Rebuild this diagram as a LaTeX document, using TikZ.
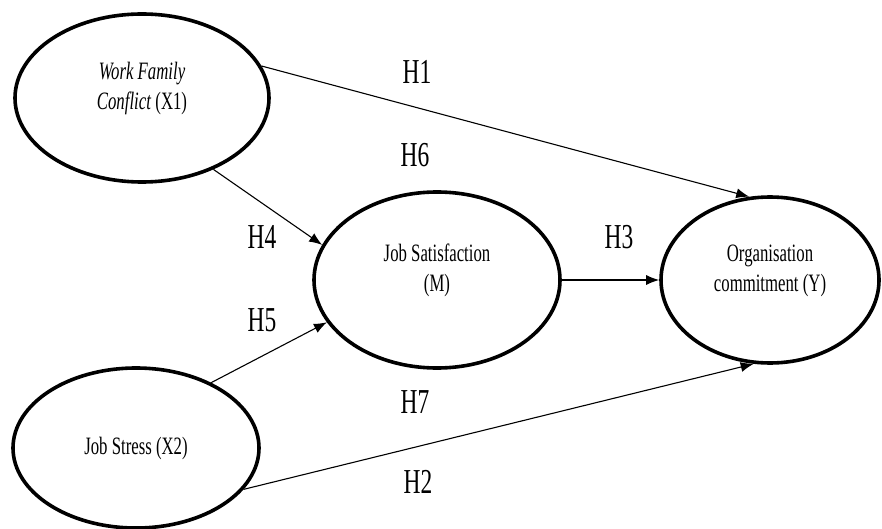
\documentclass[tikz,border=0pt]{standalone}
\usepackage{fontspec}
\setmainfont{Liberation Serif}[FakeStretch=0.67]
\usetikzlibrary{arrows.meta,shapes.geometric}
\begin{document}
\begin{tikzpicture}[x=1pt,y=-1pt,>={Latex[length=13pt,width=10pt]},line join=round,
 latent/.style={draw,ellipse,line width=3.6pt,inner sep=0pt,align=center,font=\fontsize{25}{30}\selectfont},
 hyp/.style={font=\fontsize{35}{40}\selectfont},
 link/.style={->,line width=1.1pt}]
 \useasboundingbox (0,0) rectangle (882,529);
 \node[latent,minimum width=254pt,minimum height=168pt,text depth=24pt](X1) at (142,98){\textit{Work Family}\\\textit{Conflict} (X1)};
 \node[latent,minimum width=246pt,minimum height=176pt,text depth=24pt](M) at (437,280){Job Satisfaction\\(M)};
 \node[latent,minimum width=218pt,minimum height=166pt,text depth=24pt](Y) at (770,280){Organisation\\commitment (Y)};
 \node[latent,minimum width=246pt,minimum height=160pt](X2) at (136,448){Job Stress (X2)};
 \draw[link](X1.15)--(Y.104);
 \draw[link](X1.-45)--(M.163);
 \draw[link](X2.41)--(M.201);
 \draw[link](X2.-21)--(Y.259);
 \draw[link](M.east)--(Y.west);
 \node[hyp](h1) at (417,72){H1};
 \node[hyp](h6) at (415,155){H6};
 \node[hyp](h4) at (262,237){H4};
 \node[hyp](h3) at (619,237){H3};
 \node[hyp](h5) at (262,320){H5};
 \node[hyp](h7) at (415,402){H7};
 \node[hyp](h2) at (418,482){H2};
\end{tikzpicture}
\end{document}
